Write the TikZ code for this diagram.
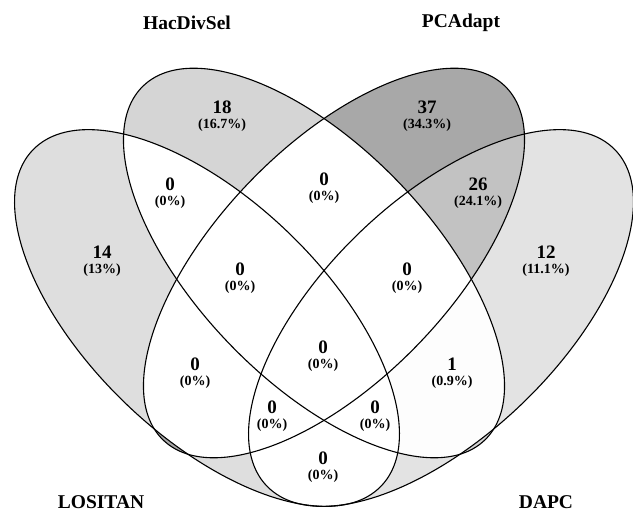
\documentclass[tikz,border=0pt]{standalone}
\usepackage{fontspec}
\setmainfont{Liberation Serif}
\definecolor{cL}{gray}{0.871}
\definecolor{cR}{gray}{0.890}
\definecolor{cH}{gray}{0.835}
\definecolor{cP}{gray}{0.659}
\definecolor{cPR}{gray}{0.761}
\definecolor{cHR}{gray}{0.992}
\newcommand{\shapeL}[1]{\path[#1,rotate around={-44:(207,194)}] (207,194) ellipse [x radius=242,y radius=118];}
\newcommand{\shapeR}[1]{\path[#1,rotate around={44:(441,194)}] (441,194) ellipse [x radius=242,y radius=118];}
\newcommand{\shapeH}[1]{\path[#1,rotate around={-46:(314,249)}] (314,249) ellipse [x radius=246,y radius=117];}
\newcommand{\shapeP}[1]{\path[#1,rotate around={46:(334,249)}] (334,249) ellipse [x radius=246,y radius=117];}
\begin{document}
\begin{tikzpicture}[x=1pt,y=1pt,
  setline/.style={draw=black,line width=1.1pt},
  num/.style={font=\fontsize{19}{22}\selectfont\bfseries,inner sep=0pt},
  pct/.style={font=\fontsize{14}{16}\selectfont\bfseries,inner sep=0pt},
  cat/.style={font=\fontsize{19.5}{23}\selectfont\bfseries,inner sep=0pt}]
\useasboundingbox (0,0) rectangle (633,512);
\begin{scope}
\clip (0,0) rectangle (633,512);
% unique fills
\shapeL{fill=cL}
\shapeR{fill=cR}
\shapeH{fill=cH}
\shapeP{fill=cP}
% whiten all overlaps
\begin{scope}\shapeL{clip}\shapeR{fill=white}\shapeH{fill=white}\shapeP{fill=white}\end{scope}
\begin{scope}\shapeR{clip}\shapeH{fill=white}\shapeP{fill=white}\end{scope}
\begin{scope}\shapeH{clip}\shapeP{fill=white}\end{scope}
% PCAdapt & DAPC only
\begin{scope}\shapeP{clip}\shapeR{clip}\fill[cPR] (0,0) rectangle (633,512);\shapeL{fill=white}\shapeH{fill=white}\end{scope}
% HacDivSel & DAPC only
\begin{scope}\shapeH{clip}\shapeR{clip}\fill[cHR] (0,0) rectangle (633,512);\shapeL{fill=white}\shapeP{fill=white}\end{scope}
% outlines
\shapeL{setline}
\shapeR{setline}
\shapeH{setline}
\shapeP{setline}
\end{scope}
% category labels
\node[cat] (catH) at (187,489) {HacDivSel};
\node[cat] (catP) at (461,489) {PCAdapt};
\node[cat] (catL) at (101,10) {LOSITAN};
\node[cat] (catD) at (546,10) {DAPC};
% area labels
\node[num] (a1) at (222,405) {18};   \node[pct] (b1) at (222,387) {(16.7\%)};
\node[num] (a2) at (427,405) {37};   \node[pct] (b2) at (427,387) {(34.3\%)};
\node[num] (a3) at (324,333) {0};    \node[pct] (b3) at (324,315) {(0\%)};
\node[num] (a4) at (170,328) {0};    \node[pct] (b4) at (170,310) {(0\%)};
\node[num] (a5) at (478,328) {26};   \node[pct] (b5) at (478,310) {(24.1\%)};
\node[num] (a6) at (102,260) {14};   \node[pct] (b6) at (102,242) {(13\%)};
\node[num] (a7) at (546,260) {12};   \node[pct] (b7) at (546,242) {(11.1\%)};
\node[num] (a8) at (240,243) {0};    \node[pct] (b8) at (240,225) {(0\%)};
\node[num] (a9) at (407,243) {0};    \node[pct] (b9) at (407,225) {(0\%)};
\node[num] (a10) at (323,165) {0};   \node[pct] (b10) at (323,147) {(0\%)};
\node[num] (a11) at (195,148) {0};   \node[pct] (b11) at (195,130) {(0\%)};
\node[num] (a12) at (452,148) {1};   \node[pct] (b12) at (452,130) {(0.9\%)};
\node[num] (a13) at (272,105) {0};   \node[pct] (b13) at (272,87) {(0\%)};
\node[num] (a14) at (375,105) {0};   \node[pct] (b14) at (375,87) {(0\%)};
\node[num] (a15) at (323,54) {0};    \node[pct] (b15) at (323,36) {(0\%)};
\end{tikzpicture}
\end{document}
